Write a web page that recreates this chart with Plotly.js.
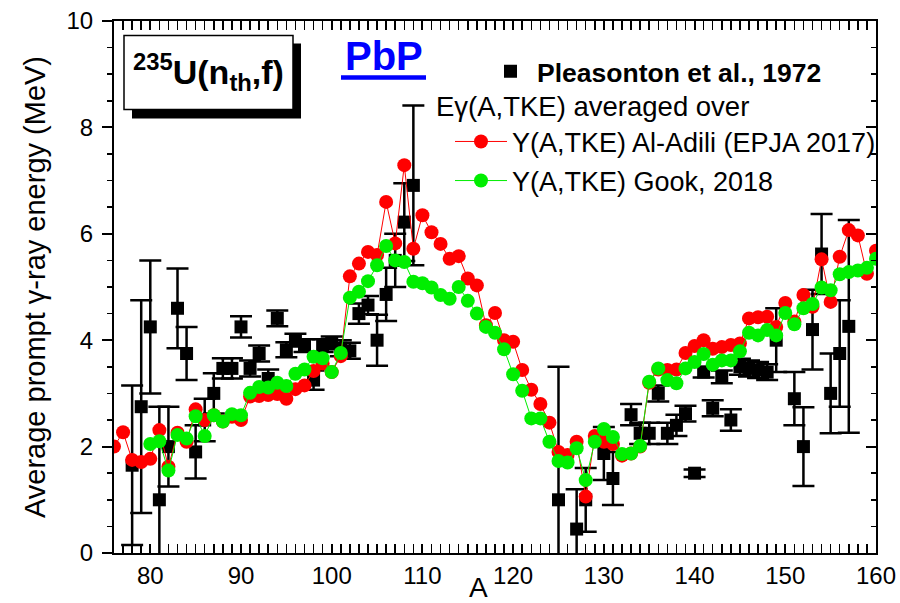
<!DOCTYPE html>
<html>
<head>
<meta charset="utf-8">
<script src="https://cdn.plot.ly/plotly-3.0.1.min.js"></script>
<style>
  html, body { margin: 0; padding: 0; background: #ffffff; }
  #chart { width: 900px; height: 603px; }
</style>
</head>
<body>
<div id="chart"></div>
<script>
// Pleasonton et al., 1972 — measured average prompt gamma energy per fragment mass
const pleasA = [78, 79, 80, 81, 82, 83, 84, 85, 86, 87, 88, 89, 90, 91, 92, 93, 94, 95, 96, 97, 98, 99, 100, 101, 102, 103, 104, 105, 106, 107, 108, 109,
                125, 127, 128, 130, 131, 133, 134, 135, 136, 137, 138, 139, 140, 141, 142, 143, 144, 145, 146, 147, 148, 149, 151, 152, 153, 154, 155, 156, 157];
const pleasE = [1.65, 2.75, 4.25, 1.0, 2.0, 4.6, 3.75, 1.9, 2.5, 3.0, 3.47, 3.47, 4.25, 3.47, 3.75, 3.28, 4.41, 3.82, 4.0, 3.9, 3.25, 3.9, 3.95, 3.85, 3.8, 4.5, 4.66, 4.0, 4.86, 5.5, 6.22, 6.91,
                1.0, 0.45, 1.0, 1.87, 1.4, 2.6, 2.25, 2.25, 3.0, 2.25, 2.4, 2.62, 1.5, 3.4, 2.72, 3.31, 2.5, 3.5, 3.47, 3.44, 3.4, 4.0, 2.9, 2.0, 4.2, 5.62, 3.0, 3.75, 4.26];
const pleasErr = [1.5, 2.0, 1.25, 1.75, 0.75, 0.75, 0.5, 0.5, 0.4, 0.38, 0.19, 0.19, 0.2, 0.15, 0.15, 0.17, 0.15, 0.14, 0.12, 0.12, 0.18, 0.12, 0.12, 0.15, 0.15, 0.19, 0.17, 0.48, 0.5, 0.5, 0.73, 1.5,
                  2.5, 0.75, 0.6, 0.5, 0.5, 0.2, 0.2, 0.2, 0.15, 0.2, 0.2, 0.15, 0.07, 0.1, 0.15, 0.12, 0.2, 0.15, 0.15, 0.15, 0.15, 0.6, 0.5, 0.74, 0.75, 0.75, 0.75, 1.0, 2.0];

// E_gamma(A,TKE) averaged over the Al-Adili (EPJA 2017) yield Y(A,TKE)
const adiliA = [76, 77, 78, 79, 80, 81, 82, 83, 84, 85, 86, 87, 88, 89, 90, 91, 92, 93, 94, 95, 96, 97, 98, 99, 100, 101, 102, 103, 104, 105, 106, 107, 108, 109, 110, 111, 112, 113, 114, 115, 116, 117, 118,
                119, 120, 121, 122, 123, 124, 125, 126, 127, 128, 129, 130, 131, 132, 133, 134, 135, 136, 137, 138, 139, 140, 141, 142, 143, 144, 145, 146, 147, 148, 149, 150, 151, 152, 153, 154, 155, 156, 157, 158, 159, 160];
const adiliE = [2.0, 2.27, 1.75, 1.71, 1.77, 2.31, 1.62, 2.26, 2.09, 2.70, 2.50, 2.59, 2.47, 2.56, 2.50, 2.94, 2.95, 2.97, 2.99, 2.90, 3.08, 3.15, 3.42, 3.56, 3.40, 3.70, 5.20, 5.44, 5.66, 5.60, 6.60, 5.82, 7.29, 5.72, 6.35, 6.03, 5.81, 5.53, 5.58, 5.16, 5.03, 4.28, 4.51,
                4.00, 3.97, 3.44, 3.07, 2.80, 2.45, 1.90, 1.84, 2.09, 1.06, 2.20, 2.09, 2.05, 1.83, 1.87, 2.00, 3.20, 3.45, 3.44, 3.45, 3.76, 3.89, 4.00, 3.84, 3.87, 3.91, 3.94, 4.41, 4.43, 4.44, 4.25, 4.70, 4.35, 4.85, 4.63, 5.52, 4.72, 5.57, 6.07, 5.97, 5.25, 5.68];

// E_gamma(A,TKE) averaged over the Gook 2018 yield Y(A,TKE)
const gookA = [80, 81, 82, 83, 84, 85, 86, 87, 88, 89, 90, 91, 92, 93, 94, 95, 96, 97, 98, 99, 100, 101, 102, 103, 104, 105, 106, 107, 108, 109, 110, 111, 112, 113, 114, 115, 116, 117, 118, 119, 120,
               121, 122, 123, 124, 125, 126, 127, 128, 129, 130, 131, 132, 133, 134, 135, 136, 137, 138, 139, 140, 141, 142, 143, 144, 145, 146, 147, 148, 149, 150, 151, 152, 153, 154, 155, 156, 157, 158, 159, 160];
const gookE = [2.05, 2.10, 1.55, 2.22, 2.15, 2.57, 2.20, 2.59, 2.47, 2.61, 2.59, 3.01, 3.12, 3.11, 3.20, 3.14, 3.37, 3.45, 3.69, 3.66, 3.40, 3.76, 4.80, 4.91, 5.11, 5.41, 5.77, 5.50, 5.47, 5.10, 5.07, 4.99, 4.85, 4.78, 5.00, 4.74, 4.50, 4.25, 4.14, 3.83, 3.36,
               3.05, 2.53, 2.53, 2.09, 1.73, 1.70, 1.97, 1.37, 2.09, 2.33, 2.18, 1.86, 1.87, 2.01, 3.22, 3.47, 3.25, 3.19, 3.47, 3.59, 3.74, 3.54, 3.62, 3.62, 3.79, 4.14, 4.09, 4.19, 4.09, 4.51, 4.30, 4.60, 4.68, 4.99, 4.94, 5.24, 5.28, 5.31, 5.36, 5.53];

const xTicks = [80, 90, 100, 110, 120, 130, 140, 150, 160];
const yTicks = [0, 2, 4, 6, 8, 10];

const FONT = 'Liberation Sans, Arial, Helvetica, sans-serif';

// plot frame in pixels -> paper fractions for decorations
const L = 114, R = 876, T = 20.5, B = 553;
const px = x => (x - L) / (R - L);
const py = y => (B - y) / (B - T);

const traces = [
  {
    x: pleasA, y: pleasE, type: 'scatter', mode: 'markers',
    name: '<b>Pleasonton et al., 1972</b>',
    marker: { symbol: 'square', size: 13, color: '#000000' },
    error_y: { type: 'data', array: pleasErr, visible: true, color: '#000000', thickness: 2.5, width: 11 },
    legend: 'legend'
  },
  {
    x: adiliA, y: adiliE, type: 'scatter', mode: 'lines+markers',
    name: 'Y(A,TKE) Al-Adili (EPJA 2017)',
    line: { color: '#ff0000', width: 1 },
    marker: { symbol: 'circle', size: 14, color: '#ff0000' },
    legend: 'legend2', legendgroup: 'a'
  },
  {
    x: gookA, y: gookE, type: 'scatter', mode: 'lines+markers',
    name: 'Y(A,TKE) Gook, 2018',
    line: { color: '#00ee00', width: 1 },
    marker: { symbol: 'circle', size: 14, color: '#00ee00' },
    legend: 'legend2', legendgroup: 'g'
  },
  // carries the right-hand tick axis
  { x: [], y: [], yaxis: 'y2', type: 'scatter', mode: 'markers', showlegend: false, hoverinfo: 'skip' }
];

const layout = {
  width: 900, height: 603,
  margin: { l: L, r: 900 - R, t: T, b: 603 - B, pad: 0 },
  paper_bgcolor: '#ffffff', plot_bgcolor: '#ffffff',
  font: { family: FONT, size: 24, color: '#000000' },
  showlegend: true,
  xaxis: {
    range: [76, 160], tickvals: xTicks, ticktext: xTicks.map(String),
    ticks: 'inside', ticklen: 9, tickwidth: 2, tickcolor: '#000',
    minor: { dtick: 1, tick0: 0, ticks: 'inside', ticklen: 5, tickwidth: 1.5, tickcolor: '#000' },
    showline: true, linewidth: 2, linecolor: '#000', mirror: 'allticks',
    showgrid: false, zeroline: false,
    tickfont: { size: 24, family: FONT }
  },
  yaxis: {
    range: [0, 10], tickvals: yTicks, ticktext: yTicks.map(String),
    ticks: 'outside', ticklen: 10, tickwidth: 2, tickcolor: '#000',
    minor: { dtick: 0.5, tick0: 0, ticks: 'outside', ticklen: 5, tickwidth: 1.5, tickcolor: '#000' },
    showline: true, linewidth: 2, linecolor: '#000', mirror: false,
    showgrid: false, zeroline: false,
    tickfont: { size: 24, family: FONT },
    ticklabelstandoff: 4,
    title: { text: 'Average prompt \u03b3-ray energy (MeV)', font: { size: 29, family: FONT }, standoff: 12 }
  },
  yaxis2: {
    range: [0, 10], overlaying: 'y', side: 'right', tickvals: yTicks,
    showticklabels: false,
    ticks: 'inside', ticklen: 10, tickwidth: 2, tickcolor: '#000',
    minor: { dtick: 0.5, tick0: 0, ticks: 'inside', ticklen: 5, tickwidth: 1.5, tickcolor: '#000' },
    showline: true, linewidth: 2, linecolor: '#000',
    showgrid: false, zeroline: false
  },
  legend: {
    x: px(484), y: py(47), xanchor: 'left', yanchor: 'top',
    bgcolor: 'rgba(0,0,0,0)', borderwidth: 0,
    font: { size: 26.5, family: FONT, color: '#000' }, itemwidth: 43
  },
  legend2: {
    x: px(450), y: py(117), xanchor: 'left', yanchor: 'top',
    bgcolor: 'rgba(0,0,0,0)', borderwidth: 0,
    font: { size: 27, family: FONT, color: '#000' }, itemwidth: 52,
    traceorder: 'grouped', tracegroupgap: 1
  },
  shapes: [
    // drop shadow and framed box for the reaction label
    { type: 'rect', xref: 'paper', yref: 'paper', x0: px(132), x1: px(301), y0: py(118), y1: py(43),
      fillcolor: '#000', line: { width: 0 } },
    { type: 'rect', xref: 'paper', yref: 'paper', x0: px(124), x1: px(293), y0: py(109), y1: py(35),
      fillcolor: '#fff', line: { color: '#000', width: 1.5 } },
    // underline of the PbP tag
    { type: 'line', xref: 'paper', yref: 'paper', x0: px(341), x1: px(426), y0: py(77), y1: py(77),
      line: { color: '#0000ff', width: 4.5 } }
  ],
  annotations: [
    { xref: 'paper', yref: 'paper', x: px(208), y: py(72), xanchor: 'center', yanchor: 'middle', showarrow: false,
      text: '<b><sup>235</sup>U(n<sub>th</sub>,f)</b>', font: { size: 34, family: FONT, color: '#000' } },
    { xref: 'paper', yref: 'paper', x: px(384), y: py(56), xanchor: 'center', yanchor: 'middle', showarrow: false,
      text: '<b>PbP</b>', font: { size: 40, family: FONT, color: '#0000ff' } },
    { xref: 'paper', yref: 'paper', x: px(434), y: py(106), xanchor: 'left', yanchor: 'middle', showarrow: false,
      text: 'E\u03b3(A,TKE) averaged over', font: { size: 27.5, family: FONT, color: '#000' } },
    { xref: 'paper', yref: 'paper', x: px(478), y: py(588), xanchor: 'center', yanchor: 'middle', showarrow: false,
      text: 'A', font: { size: 28, family: FONT, color: '#000' } }
  ]
};

Plotly.newPlot('chart', traces, layout, { staticPlot: true, displayModeBar: false });
</script>
</body>
</html>
